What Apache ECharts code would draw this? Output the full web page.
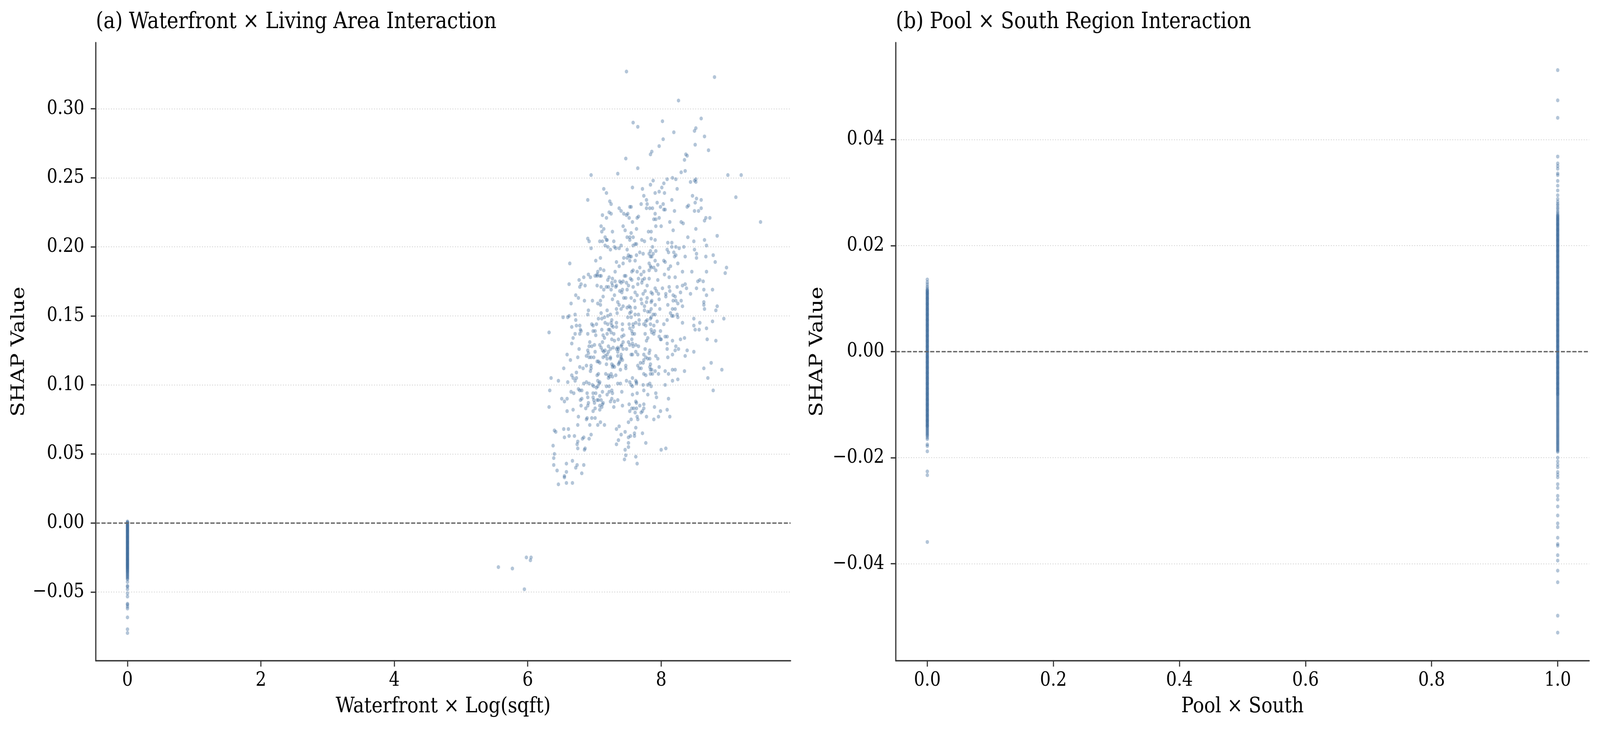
<!DOCTYPE html>
<html>
<head>
<meta charset="utf-8">
<title>SHAP interaction dependence</title>
<script src="https://cdn.jsdelivr.net/npm/echarts@6/dist/echarts.min.js"></script>
<style>
  html, body { margin: 0; padding: 0; background: #ffffff; overflow: hidden; }
  #frame { position: relative; width: 100vw; height: 100vh; overflow: hidden; }
  #chart { position: absolute; left: 0; top: 0; width: 4744px; height: 1877px; transform-origin: 0 0; }
</style>
</head>
<body>
<div id="frame"><div id="chart"></div></div>
<script>
// tick positions
var waterfrontTicks = [0, 2, 4, 6, 8];
var waterfrontShapTicks = [-0.05, 0, 0.05, 0.1, 0.15, 0.2, 0.25, 0.3];
var poolTicks = [0, 0.2, 0.4, 0.6, 0.8, 1];
var poolShapTicks = [-0.04, -0.02, 0, 0.02, 0.04];

// (a) SHAP values of the houses with waterfront = 0 (all sit at x = 0)
var waterfrontZeroShap = [
  0.0011, 0.0006, 0.0002, -0.0003, -0.0008, -0.0012, -0.0017, -0.0021, -0.0026, -0.0030,
  -0.0035, -0.0040, -0.0044, -0.0049, -0.0053, -0.0058, -0.0062, -0.0067, -0.0071, -0.0076,
  -0.0081, -0.0085, -0.0090, -0.0094, -0.0099, -0.0103, -0.0108, -0.0112, -0.0117, -0.0122,
  -0.0126, -0.0131, -0.0135, -0.0140, -0.0144, -0.0149, -0.0153, -0.0158, -0.0163, -0.0167,
  -0.0172, -0.0176, -0.0181, -0.0185, -0.0190, -0.0194, -0.0199, -0.0204, -0.0208, -0.0213,
  -0.0217, -0.0222, -0.0226, -0.0231, -0.0235, -0.0240, -0.0245, -0.0249, -0.0254, -0.0258,
  -0.0263, -0.0267, -0.0272, -0.0276, -0.0281, -0.0286, -0.0290, -0.0295, -0.0299, -0.0304,
  -0.0308, -0.0313, -0.0318, -0.0322, -0.0327, -0.0332, -0.0337, -0.0342, -0.0348, -0.0353,
  -0.0359, -0.0366, -0.0372, -0.0379, -0.0386, -0.0393, -0.0401, -0.0408, -0.0427, -0.0455,
  -0.0462, -0.0480, -0.0510, -0.0533, -0.0585, -0.0592, -0.0606, -0.0620, -0.0684, -0.0770,
  -0.0797
];

// (a) waterfront houses: [waterfront x log(sqft), SHAP value]
var waterfrontPoints = [
  [7.48,0.327],[8.80,0.323],[8.26,0.306],[8.60,0.293],[7.58,0.290],[8.02,0.291],[7.65,0.287],[8.52,0.286],
  [8.50,0.284],[8.19,0.283],[8.65,0.280],[8.03,0.278],[7.97,0.273],[8.51,0.274],[7.86,0.269],[7.84,0.267],
  [8.71,0.270],[8.37,0.267],[8.39,0.266],[8.35,0.263],[7.47,0.264],[7.65,0.257],[7.35,0.253],[6.95,0.252],
  [8.30,0.254],[8.36,0.255],[9.00,0.252],[9.20,0.252],[8.17,0.250],[8.09,0.249],[8.22,0.249],[7.88,0.248],
  [7.84,0.245],[8.04,0.246],[8.44,0.247],[8.50,0.248],[8.52,0.249],[8.52,0.247],[7.14,0.242],[7.18,0.239],
  [7.57,0.243],[7.72,0.242],[8.01,0.243],[8.24,0.242],[7.97,0.240],[7.91,0.239],[8.05,0.239],[7.74,0.237],
  [8.47,0.237],[8.53,0.235],[6.90,0.234],[9.12,0.236],[7.78,0.234],[8.16,0.234],[8.60,0.234],[7.23,0.233],
  [7.25,0.231],[7.79,0.231],[7.70,0.231],[7.94,0.232],[8.03,0.231],[8.51,0.232],[7.53,0.229],[7.55,0.229],
  [7.37,0.228],[7.78,0.228],[7.83,0.228],[7.87,0.228],[7.99,0.229],[8.41,0.230],[8.39,0.229],[8.60,0.228],
  [7.40,0.226],[7.44,0.224],[7.50,0.224],[7.22,0.225],[7.25,0.224],[7.12,0.223],[8.06,0.227],[8.04,0.227],
  [7.91,0.224],[8.20,0.226],[8.50,0.226],[8.56,0.226],[7.48,0.223],[7.52,0.221],[7.18,0.221],[7.66,0.222],
  [7.64,0.221],[7.97,0.221],[8.67,0.221],[8.73,0.221],[8.65,0.219],[7.89,0.220],[7.92,0.220],[9.49,0.218],
  [7.57,0.218],[8.13,0.218],[8.30,0.218],[8.33,0.217],
  [7.10,0.215],[7.14,0.213],[7.11,0.211],[7.43,0.215],[7.46,0.212],[7.63,0.213],[7.27,0.211],[7.81,0.211],
  [7.85,0.211],[7.92,0.215],[8.00,0.215],[8.18,0.212],[8.52,0.213],[8.84,0.208],[6.90,0.206],[6.92,0.204],
  [7.08,0.204],[7.12,0.204],[7.16,0.207],[7.18,0.205],[7.19,0.205],[7.29,0.204],[7.49,0.207],[7.53,0.207],
  [7.55,0.210],[7.58,0.207],[7.71,0.205],[7.75,0.204],[7.85,0.206],[7.91,0.205],[8.40,0.207],[8.49,0.204],
  [8.65,0.205],[6.95,0.199],[7.16,0.201],[7.20,0.200],[7.24,0.198],[7.30,0.200],[7.32,0.199],[7.37,0.199],
  [7.40,0.201],[7.49,0.198],[7.53,0.205],[7.58,0.201],[7.61,0.202],[7.63,0.202],[7.68,0.196],[7.73,0.195],
  [7.82,0.195],[7.84,0.197],[7.87,0.200],[7.92,0.197],[7.84,0.193],[7.86,0.193],[7.88,0.195],[7.51,0.194],
  [7.49,0.192],[7.53,0.193],[7.55,0.193],[7.44,0.192],[7.63,0.194],[7.61,0.190],[7.43,0.188],[7.33,0.189],
  [7.53,0.190],[8.10,0.203],[8.16,0.203],[8.09,0.198],[8.11,0.196],[8.16,0.200],[8.22,0.200],[8.27,0.199],
  [8.34,0.200],[8.19,0.196],[8.22,0.194],[8.20,0.193],[8.36,0.193],[8.50,0.198],[8.53,0.195],[8.53,0.192],
  [8.68,0.201],[8.67,0.193],[8.78,0.194],[8.81,0.189],[7.09,0.192],[7.02,0.190],[6.63,0.188],[8.04,0.190],
  [8.06,0.189],[8.14,0.186],[8.25,0.188],[8.11,0.184],[7.91,0.190],[7.95,0.187],[7.82,0.188],[7.84,0.186],
  [7.37,0.186],[7.31,0.182],[7.14,0.183],[7.09,0.184],[7.05,0.182],[7.04,0.180],[7.01,0.179],[7.04,0.179],
  [7.08,0.179],[7.10,0.179],[6.91,0.180],[6.94,0.178],[6.84,0.178],[6.77,0.176],[6.80,0.173],[6.78,0.171],
  [6.62,0.173],[7.58,0.183],[7.56,0.182],[7.64,0.182],[7.68,0.185],[7.74,0.182],[7.85,0.185],[7.89,0.185],
  [7.92,0.183],[7.82,0.183],[8.32,0.182],[8.46,0.182],[8.68,0.182],[8.98,0.185],[8.96,0.181],[7.45,0.179],
  [7.47,0.179],[7.43,0.175],[7.22,0.178],[7.20,0.176],[7.27,0.177],[7.31,0.175],[7.26,0.174],[7.38,0.175],
  [7.40,0.174],[7.48,0.174],[7.54,0.177],[7.56,0.176],[7.66,0.177],[7.70,0.180],[7.72,0.176],[7.75,0.177],
  [7.82,0.177],[8.05,0.180],[8.12,0.178],[8.21,0.178],[7.95,0.176],[7.65,0.173],[7.71,0.174],[7.79,0.172],
  [8.55,0.175],[8.58,0.176],[8.63,0.175],
  [6.86,0.172],[7.04,0.172],[7.10,0.171],[7.14,0.169],[7.18,0.171],[7.21,0.171],[7.25,0.169],[7.27,0.172],
  [7.33,0.172],[7.32,0.171],[7.38,0.168],[7.41,0.167],[7.42,0.169],[7.49,0.169],[7.51,0.172],[7.58,0.171],
  [7.61,0.167],[7.64,0.165],[7.73,0.166],[7.76,0.168],[7.85,0.167],[7.87,0.166],[7.91,0.170],[7.93,0.168],
  [7.96,0.166],[8.02,0.170],[8.07,0.166],[8.07,0.164],[8.12,0.171],[8.13,0.168],[8.18,0.165],[8.21,0.164],
  [8.24,0.171],[8.32,0.172],[8.36,0.173],[8.38,0.170],[8.29,0.167],[8.44,0.166],[8.53,0.170],[8.64,0.169],
  [8.68,0.165],[8.77,0.169],[6.72,0.165],[6.76,0.163],[6.85,0.161],[6.97,0.161],[7.05,0.159],[7.09,0.161],
  [7.09,0.158],[7.13,0.164],[7.27,0.162],[7.30,0.165],[7.35,0.160],[7.37,0.158],[7.44,0.163],[7.47,0.163],
  [7.52,0.157],[7.55,0.163],[7.60,0.161],[7.70,0.162],[7.71,0.159],[7.78,0.160],[7.79,0.163],[7.86,0.161],
  [7.91,0.158],[7.85,0.160],[7.97,0.162],[8.10,0.158],[8.18,0.161],[8.22,0.161],[8.25,0.159],[8.30,0.161],
  [8.32,0.157],[8.64,0.160],[8.64,0.158],[8.65,0.155],[8.84,0.157],[8.82,0.154],
  [6.65,0.159],[6.91,0.154],[6.90,0.151],[6.71,0.151],[6.72,0.147],[6.53,0.149],[6.60,0.149],[6.62,0.150],
  [7.10,0.152],[7.15,0.149],[7.19,0.154],[7.20,0.150],[7.24,0.151],[7.26,0.147],[7.33,0.155],[7.34,0.152],
  [7.40,0.155],[7.43,0.157],[7.49,0.156],[7.54,0.156],[7.53,0.152],[7.55,0.153],[7.61,0.156],[7.61,0.151],
  [7.66,0.151],[7.75,0.157],[7.75,0.154],[7.80,0.153],[7.85,0.155],[7.83,0.153],[7.88,0.151],[7.91,0.151],
  [7.98,0.155],[8.14,0.152],[8.17,0.155],[8.21,0.155],[8.16,0.150],[8.18,0.150],[8.24,0.151],[8.25,0.149],
  [7.06,0.148],[7.11,0.148],[7.50,0.149],[7.55,0.149],[7.85,0.149],[7.84,0.148],[7.67,0.147],[7.77,0.146],
  [7.79,0.147],[7.94,0.146],[8.09,0.147],[8.49,0.148],[8.94,0.148],[8.77,0.146],[8.58,0.145],
  [6.66,0.142],[6.73,0.143],[6.78,0.143],[6.79,0.140],[6.80,0.139],[6.71,0.137],[6.78,0.137],[6.68,0.134],
  [6.32,0.138],[6.90,0.137],[6.96,0.144],[6.98,0.143],[6.98,0.139],[7.01,0.139],[7.03,0.144],[7.02,0.136],
  [7.16,0.145],[7.20,0.144],[7.25,0.145],[7.26,0.143],[7.28,0.142],[7.33,0.145],[7.33,0.142],[7.23,0.140],
  [7.25,0.138],[7.21,0.140],[7.29,0.137],[7.11,0.140],[7.13,0.136],[7.19,0.137],[7.15,0.134],[7.42,0.144],
  [7.42,0.140],[7.44,0.136],[7.41,0.135],[7.52,0.144],[7.53,0.141],[7.58,0.144],[7.56,0.139],[7.57,0.137],
  [7.60,0.137],[7.58,0.142],[7.62,0.145],[7.67,0.144],[7.74,0.144],[7.77,0.143],[7.84,0.144],[7.89,0.143],
  [7.90,0.139],[7.85,0.140],[7.86,0.138],[7.89,0.137],[7.76,0.137],[7.99,0.139],[7.97,0.135],[7.99,0.133],
  [8.04,0.144],[8.00,0.133],[8.06,0.135],[8.09,0.135],[8.32,0.145],[8.49,0.143],[8.51,0.140],[8.57,0.140],
  [8.68,0.141],[8.69,0.133],[8.82,0.132],[8.29,0.133],[8.35,0.134],[8.17,0.132],[8.09,0.130],[7.78,0.132],
  [7.80,0.134],[7.56,0.133],[7.36,0.133],[7.26,0.133],[7.30,0.132],[6.66,0.130],[7.12,0.131],
  [6.93,0.131],[6.96,0.128],[6.92,0.128],[7.00,0.129],[7.01,0.124],[6.90,0.125],[6.91,0.123],[6.88,0.121],
  [6.92,0.120],[6.95,0.120],[6.99,0.120],[6.77,0.126],[6.59,0.122],[6.64,0.118],[6.75,0.120],[7.08,0.129],
  [7.10,0.127],[7.12,0.125],[7.14,0.124],[7.16,0.121],[7.19,0.122],[7.21,0.128],[7.21,0.124],[7.24,0.126],
  [7.28,0.127],[7.33,0.126],[7.35,0.127],[7.36,0.126],[7.35,0.124],[7.41,0.129],[7.40,0.128],[7.43,0.131],
  [7.51,0.131],[7.53,0.129],[7.57,0.130],[7.58,0.128],[7.62,0.129],[7.66,0.128],[7.48,0.126],[7.43,0.126],
  [7.40,0.122],[7.35,0.121],[7.40,0.120],[7.24,0.119],[7.19,0.119],[7.24,0.120],[7.04,0.117],[7.06,0.117],
  [7.08,0.116],[7.13,0.120],[7.16,0.125],[7.55,0.122],[7.57,0.122],[7.62,0.124],[7.65,0.122],[7.76,0.126],
  [7.83,0.125],[7.82,0.123],[7.74,0.122],[7.77,0.120],[7.80,0.119],[7.83,0.119],[7.74,0.118],[7.92,0.121],
  [7.95,0.119],[8.22,0.128],[8.21,0.125],[8.26,0.126],[8.39,0.125],[8.49,0.124],[8.36,0.121],[8.17,0.122],
  [8.10,0.120],[8.09,0.126],
  [6.54,0.112],[6.78,0.113],[6.83,0.112],[6.88,0.114],[6.95,0.114],[6.95,0.112],[6.94,0.110],[7.18,0.115],
  [7.27,0.113],[7.26,0.115],[7.28,0.114],[7.30,0.113],[7.36,0.115],[7.37,0.116],[7.38,0.117],[7.40,0.119],
  [7.42,0.118],[7.39,0.111],[7.47,0.114],[7.47,0.112],[7.65,0.114],[7.67,0.112],[7.70,0.112],[7.69,0.116],
  [7.73,0.116],[7.84,0.115],[7.83,0.113],[7.84,0.111],[7.86,0.111],[7.91,0.110],[7.97,0.113],[8.06,0.110],
  [8.11,0.108],[8.17,0.111],[8.21,0.111],[8.35,0.110],[8.64,0.112],[8.75,0.116],[8.91,0.111],[8.70,0.105],
  [6.35,0.105],[6.46,0.103],[6.60,0.102],[6.66,0.107],[6.68,0.105],[6.71,0.103],[6.73,0.109],[6.73,0.105],
  [7.04,0.107],[7.06,0.108],[7.05,0.103],[7.08,0.102],[7.17,0.108],[7.21,0.107],[7.21,0.105],[7.23,0.106],
  [7.25,0.108],[7.27,0.106],[7.32,0.107],[7.74,0.108],[7.77,0.107],[7.84,0.108],[7.87,0.108],[7.96,0.108],
  [7.57,0.105],[7.62,0.103],[7.63,0.102],[7.48,0.103],[7.53,0.102],[8.17,0.103],[8.25,0.104],
  [6.84,0.101],[6.88,0.102],[6.92,0.101],[6.97,0.100],[6.99,0.099],[7.05,0.099],[7.07,0.101],[7.03,0.098],
  [7.18,0.099],[7.22,0.099],[7.35,0.101],[7.39,0.101],[7.55,0.100],[7.57,0.099],[7.63,0.101],[7.73,0.100],
  [7.80,0.100],[7.83,0.101],[7.85,0.099],[8.06,0.100],[6.33,0.096],[6.65,0.095],[6.69,0.094],[6.76,0.097],
  [6.78,0.096],[6.81,0.096],[6.89,0.094],[6.98,0.094],[7.02,0.094],[7.08,0.092],[7.12,0.095],[7.19,0.093],
  [7.22,0.095],[7.26,0.096],[7.27,0.094],[7.41,0.095],[7.57,0.093],[7.64,0.094],[7.74,0.096],[7.80,0.093],
  [7.92,0.094],[7.93,0.091],[8.11,0.090],[8.78,0.096],[6.51,0.090],[6.55,0.088],[6.59,0.090],[6.79,0.089],
  [6.81,0.090],[6.90,0.091],[6.98,0.091],[6.99,0.089],[7.04,0.089],[7.06,0.089],[7.10,0.089],[7.13,0.087],
  [7.24,0.088],[7.26,0.090],[7.30,0.088],[7.35,0.089],
  [6.32,0.084],[6.59,0.081],[6.68,0.082],[6.80,0.085],[6.87,0.083],[6.91,0.087],[6.90,0.085],[7.00,0.087],
  [7.01,0.083],[6.98,0.081],[7.08,0.085],[7.08,0.082],[7.11,0.084],[7.12,0.086],[7.29,0.084],[7.42,0.085],
  [7.52,0.086],[7.56,0.083],[7.59,0.083],[7.61,0.080],[7.62,0.088],[7.63,0.087],[7.63,0.083],[7.68,0.085],
  [7.74,0.086],[7.74,0.083],[7.72,0.081],[7.70,0.080],[7.64,0.077],[7.53,0.081],[7.90,0.084],[7.99,0.081],
  [8.09,0.082],[8.13,0.077],[7.96,0.077],[7.78,0.077],[7.89,0.075],[6.76,0.077],[6.88,0.075],[6.89,0.076],
  [6.96,0.076],[7.01,0.076],[7.55,0.075],[7.65,0.075],[7.51,0.073],[6.75,0.071],[6.93,0.071],[7.05,0.071],
  [7.09,0.073],[7.15,0.071],[7.37,0.070],
  [6.40,0.067],[6.42,0.066],[6.54,0.068],[6.61,0.068],[6.55,0.062],[6.62,0.063],[6.70,0.063],[6.75,0.059],
  [6.82,0.061],[6.84,0.062],[6.92,0.061],[6.95,0.064],[7.33,0.068],[7.40,0.064],[7.46,0.066],[7.60,0.065],
  [7.62,0.069],[7.72,0.065],[7.51,0.062],[7.54,0.063],[7.60,0.063],[7.36,0.060],[7.77,0.058],[7.33,0.057],
  [7.51,0.058],
  [6.38,0.056],[6.40,0.050],[6.39,0.047],[6.74,0.057],[6.75,0.054],[6.85,0.053],[6.86,0.054],[7.46,0.053],
  [7.51,0.055],[8.00,0.053],[8.07,0.054],[6.39,0.042],[6.44,0.038],[6.58,0.043],[6.58,0.037],[6.55,0.034],
  [6.55,0.033],[6.67,0.045],[6.74,0.042],[6.72,0.040],[6.84,0.042],[6.81,0.036],[7.47,0.049],[7.62,0.048],
  [7.45,0.046],[7.64,0.043],[6.46,0.028],[6.58,0.029],[6.67,0.029],
  [5.56,-0.032],[5.77,-0.033],[5.98,-0.025],[6.05,-0.025],[6.04,-0.027],[5.95,-0.048]
];

// (b) SHAP values with pool x south = 0
var poolZeroShap = [
  0.0136, 0.0131, 0.0127, 0.0123, 0.0120, 0.0117, 0.0116, 0.0114, 0.0113, 0.0111, 0.0110,
  0.0109, 0.0107, 0.0106, 0.0104, 0.0103, 0.0101, 0.0100,
  0.0099, 0.0097, 0.0096, 0.0094, 0.0093, 0.0091, 0.0090,
  0.0089, 0.0087, 0.0086, 0.0084, 0.0083, 0.0081, 0.0080,
  0.0079, 0.0077, 0.0076, 0.0074, 0.0073, 0.0071, 0.0070,
  0.0069, 0.0067, 0.0066, 0.0064, 0.0063, 0.0061, 0.0060,
  0.0059, 0.0057, 0.0056, 0.0054, 0.0053, 0.0051, 0.0050,
  0.0049, 0.0047, 0.0046, 0.0044, 0.0043, 0.0041, 0.0040,
  0.0039, 0.0037, 0.0036, 0.0034, 0.0033, 0.0031, 0.0030,
  0.0029, 0.0027, 0.0026, 0.0024, 0.0023, 0.0021, 0.0020,
  0.0019, 0.0017, 0.0016, 0.0014, 0.0013, 0.0011, 0.0010,
  0.0009, 0.0007, 0.0006, 0.0004, 0.0003, 0.0001, 0.0000,
  -0.0001, -0.0003, -0.0004, -0.0006, -0.0007, -0.0009, -0.0010,
  -0.0011, -0.0013, -0.0014, -0.0016, -0.0017, -0.0019, -0.0020,
  -0.0021, -0.0023, -0.0024, -0.0026, -0.0027, -0.0029, -0.0030,
  -0.0031, -0.0033, -0.0034, -0.0036, -0.0037, -0.0039, -0.0040,
  -0.0041, -0.0043, -0.0044, -0.0046, -0.0047, -0.0049, -0.0050,
  -0.0051, -0.0053, -0.0054, -0.0056, -0.0057, -0.0059, -0.0060,
  -0.0061, -0.0063, -0.0064, -0.0066, -0.0067, -0.0069, -0.0070,
  -0.0071, -0.0073, -0.0074, -0.0076, -0.0077, -0.0079, -0.0080,
  -0.0081, -0.0083, -0.0084, -0.0086, -0.0087, -0.0089, -0.0090,
  -0.0091, -0.0093, -0.0094, -0.0096, -0.0097, -0.0099, -0.0100,
  -0.0101, -0.0103, -0.0104, -0.0106, -0.0107, -0.0109, -0.0110,
  -0.0111, -0.0113, -0.0114, -0.0116, -0.0117, -0.0119, -0.0120,
  -0.0121, -0.0123, -0.0124, -0.0126, -0.0127, -0.0129, -0.0130,
  -0.0131, -0.0133, -0.0134, -0.0136, -0.0137, -0.0139, -0.0140,
  -0.0141, -0.0143, -0.0145, -0.0147, -0.0149, -0.0151, -0.0153, -0.0155, -0.0157, -0.0159,
  -0.0162, -0.0165, -0.0175, -0.0178, -0.0188, -0.0226, -0.0233, -0.0359
];

// (b) SHAP values with pool x south = 1
var poolOneShap = [
  0.0531, 0.0474, 0.0441, 0.0368, 0.0355, 0.0350, 0.0345, 0.0336, 0.0333, 0.0322, 0.0313,
  0.0304, 0.0295, 0.0288, 0.0283, 0.0279, 0.0276, 0.0272, 0.0269, 0.0265, 0.0262,
  0.0259, 0.0257, 0.0256, 0.0254, 0.0253, 0.0251, 0.0250,
  0.0249, 0.0247, 0.0246, 0.0244, 0.0243, 0.0241, 0.0240,
  0.0239, 0.0237, 0.0236, 0.0234, 0.0233, 0.0231, 0.0230,
  0.0229, 0.0227, 0.0226, 0.0224, 0.0223, 0.0221, 0.0220,
  0.0219, 0.0217, 0.0216, 0.0214, 0.0213, 0.0211, 0.0210,
  0.0209, 0.0207, 0.0206, 0.0204, 0.0203, 0.0201, 0.0200,
  0.0199, 0.0197, 0.0196, 0.0194, 0.0193, 0.0191, 0.0190,
  0.0189, 0.0187, 0.0186, 0.0184, 0.0183, 0.0181, 0.0180,
  0.0179, 0.0177, 0.0176, 0.0174, 0.0173, 0.0171, 0.0170,
  0.0169, 0.0167, 0.0166, 0.0164, 0.0163, 0.0161, 0.0160,
  0.0159, 0.0157, 0.0156, 0.0154, 0.0153, 0.0151, 0.0150,
  0.0149, 0.0147, 0.0146, 0.0144, 0.0143, 0.0141, 0.0140,
  0.0139, 0.0137, 0.0136, 0.0134, 0.0133, 0.0131, 0.0130,
  0.0129, 0.0127, 0.0126, 0.0124, 0.0123, 0.0121, 0.0120,
  0.0119, 0.0117, 0.0116, 0.0114, 0.0113, 0.0111, 0.0110,
  0.0109, 0.0107, 0.0106, 0.0104, 0.0103, 0.0101, 0.0100,
  0.0099, 0.0097, 0.0096, 0.0094, 0.0093, 0.0091, 0.0090,
  0.0089, 0.0087, 0.0086, 0.0084, 0.0083, 0.0081, 0.0080,
  0.0079, 0.0077, 0.0076, 0.0074, 0.0073, 0.0071, 0.0070,
  0.0069, 0.0067, 0.0066, 0.0064, 0.0063, 0.0061, 0.0060,
  0.0059, 0.0057, 0.0056, 0.0054, 0.0053, 0.0051, 0.0050,
  0.0049, 0.0047, 0.0046, 0.0044, 0.0043, 0.0041, 0.0040,
  0.0039, 0.0037, 0.0036, 0.0034, 0.0033, 0.0031, 0.0030,
  0.0029, 0.0027, 0.0026, 0.0024, 0.0023, 0.0021, 0.0020,
  0.0019, 0.0017, 0.0016, 0.0014, 0.0013, 0.0011, 0.0010,
  0.0009, 0.0007, 0.0006, 0.0004, 0.0003, 0.0001, 0.0000,
  -0.0001, -0.0003, -0.0004, -0.0006, -0.0007, -0.0009, -0.0010,
  -0.0011, -0.0013, -0.0014, -0.0016, -0.0017, -0.0019, -0.0020,
  -0.0021, -0.0023, -0.0024, -0.0026, -0.0027, -0.0029, -0.0030,
  -0.0031, -0.0033, -0.0034, -0.0036, -0.0037, -0.0039, -0.0040,
  -0.0041, -0.0043, -0.0044, -0.0046, -0.0047, -0.0049, -0.0050,
  -0.0051, -0.0053, -0.0054, -0.0056, -0.0057, -0.0059, -0.0060,
  -0.0061, -0.0063, -0.0064, -0.0066, -0.0067, -0.0069, -0.0070,
  -0.0071, -0.0073, -0.0074, -0.0076, -0.0077, -0.0079, -0.0080,
  -0.0081, -0.0083, -0.0085, -0.0087, -0.0089, -0.0091, -0.0093, -0.0095, -0.0097, -0.0099,
  -0.0101, -0.0103, -0.0105, -0.0107, -0.0109, -0.0111, -0.0113, -0.0115, -0.0117, -0.0119,
  -0.0121, -0.0123, -0.0125, -0.0127, -0.0129, -0.0131, -0.0133, -0.0135, -0.0137, -0.0139,
  -0.0141, -0.0143, -0.0145, -0.0147, -0.0149, -0.0151, -0.0153, -0.0155, -0.0157, -0.0159,
  -0.0161, -0.0163, -0.0165, -0.0167, -0.0169, -0.0171, -0.0173, -0.0175, -0.0177, -0.0179,
  -0.0181, -0.0183, -0.0185, -0.0187, -0.0189,
  -0.0200, -0.0207, -0.0213, -0.0218, -0.0227, -0.0232, -0.0237, -0.0250, -0.0257, -0.0272,
  -0.0279, -0.0292, -0.0309, -0.0324, -0.0331, -0.0351, -0.0363, -0.0366, -0.0384, -0.0394,
  -0.0413, -0.0435, -0.0498, -0.0530
];

var font = 'DejaVu Serif';
var ink = '#000000';
var spine = '#333333';
var dot = '#386698';
var zeroColor = '#666666';
var gridColor = '#cccccc';

function shapLabel(v) {
  var s = Math.abs(v).toFixed(2);
  return v < 0 ? '\u2212' + s : s;
}

function valueAxis(o) {
  return {
    type: 'value', gridIndex: o.grid, min: o.min, max: o.max,
    name: o.name, nameLocation: 'middle', nameGap: o.gap,
    nameTextStyle: { fontFamily: font, fontSize: 55, color: ink },
    axisLine: { show: true, onZero: false, lineStyle: { color: spine, width: 3.5 } },
    axisTick: { show: true, length: 15, customValues: o.ticks, lineStyle: { color: spine, width: 3.3 } },
    axisLabel: { customValues: o.ticks, formatter: o.fmt, margin: o.margin, fontFamily: font, fontSize: 50, color: ink },
    splitLine: { show: !!o.split, lineStyle: { color: gridColor, width: 2, type: [2.5, 5] } }
  };
}

function zeroLine() {
  return {
    silent: true, symbol: ['none', 'none'], label: { show: false }, animation: false,
    lineStyle: { color: zeroColor, width: 3.3, type: [12, 5] },
    data: [{ yAxis: 0 }]
  };
}

var seriesA = waterfrontZeroShap.map(function (v) { return [0, v]; }).concat(waterfrontPoints);
var seriesB = poolZeroShap.map(function (v) { return [0, v]; })
  .concat(poolOneShap.map(function (v) { return [1, v]; }));

// the figure is laid out at 4744 x 1877; fit it to whatever viewport we get
var box = document.getElementById('chart');
box.style.transform = 'scale(' + (window.innerWidth / 4744) + ',' + (window.innerHeight / 1877) + ')';

var chart = echarts.init(box);
chart.setOption({
  animation: false,
  backgroundColor: '#ffffff',
  title: [
    { text: '(a) Waterfront \u00d7 Living Area Interaction', left: 284, top: 28, padding: 0,
      textStyle: { fontFamily: font, fontSize: 58, fontWeight: 'normal', color: ink } },
    { text: '(b) Pool \u00d7 South Region Interaction', left: 2656, top: 28, padding: 0,
      textStyle: { fontFamily: font, fontSize: 58, fontWeight: 'normal', color: ink } }
  ],
  grid: [
    { left: 284, top: 109, width: 2060, height: 1583 },
    { left: 2656, top: 109, width: 2056, height: 1583 }
  ],
  xAxis: [
    valueAxis({ grid: 0, min: -0.475, max: 9.94, ticks: waterfrontTicks, name: 'Waterfront \u00d7 Log(sqft)', gap: 90,
      margin: 26, fmt: function (v) { return String(v); } }),
    valueAxis({ grid: 1, min: -0.05, max: 1.05, ticks: poolTicks, name: 'Pool \u00d7 South', gap: 90,
      margin: 26, fmt: function (v) { return v.toFixed(1); } })
  ],
  yAxis: [
    valueAxis({ grid: 0, min: -0.0998, max: 0.348, ticks: waterfrontShapTicks, name: 'SHAP Value', gap: 200,
      margin: 34, fmt: shapLabel, split: true }),
    valueAxis({ grid: 1, min: -0.0583, max: 0.0583, ticks: poolShapTicks, name: 'SHAP Value', gap: 205,
      margin: 34, fmt: shapLabel, split: true })
  ],
  series: [
    { type: 'scatter', xAxisIndex: 0, yAxisIndex: 0, data: seriesA, symbolSize: 10,
      large: false, progressive: 0, silent: true,
      itemStyle: { color: dot, opacity: 0.38 }, markLine: zeroLine() },
    { type: 'scatter', xAxisIndex: 1, yAxisIndex: 1, data: seriesB, symbolSize: 10,
      large: false, progressive: 0, silent: true,
      itemStyle: { color: dot, opacity: 0.38 }, markLine: zeroLine() }
  ]
});
window.addEventListener('resize', function () {
  box.style.transform = 'scale(' + (window.innerWidth / 4744) + ',' + (window.innerHeight / 1877) + ')';
});
</script>
</body>
</html>
